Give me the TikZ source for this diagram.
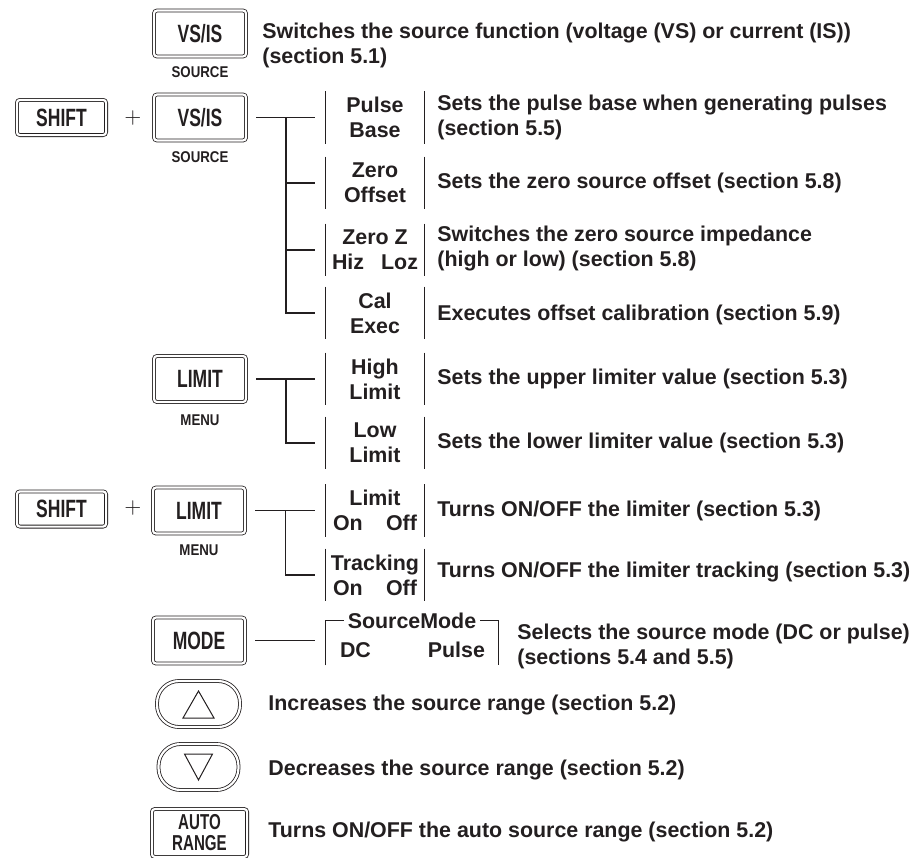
\documentclass[tikz,border=0pt]{standalone}
\usepackage{fontspec}
\setmainfont{Liberation Sans}
\newfontfamily\keyfont[FakeStretch=0.7]{Liberation Sans}
\newfontfamily\capfont[FakeStretch=0.85]{Liberation Sans}
\usetikzlibrary{positioning, calc}
\definecolor{ink}{HTML}{231F20}

\begin{document}
\begin{tikzpicture}[
    x=0.5pt, y=-0.5pt,
    color=ink,
    font=\bfseries\fontsize{10.7}{12.5}\selectfont,
    key/.style={draw, double, double distance=1.1pt, line width=0.4pt, rounded corners=1.5pt,
        minimum width=46pt, minimum height=23pt, inner sep=0pt,
        font=\keyfont\bfseries\fontsize{12.5}{10.5}\selectfont, align=center},
    roundkey/.style={key, rounded corners=11pt, minimum width=41.5pt},
    keycap/.style={inner sep=0pt, font=\capfont\bfseries\fontsize{7.8}{8}\selectfont},
    item/.style={minimum width=49pt, minimum height=26pt, inner sep=0pt, align=center},
    desc/.style={anchor=west, align=left, inner sep=0pt},
    link/.style={line width=0.7pt}
]
    \useasboundingbox (0,0) rectangle (921,857);

    % VS/IS alone
    \node[key] (vsisA) at (200,33.5) {VS/IS};
    \node[keycap] (capA) at (200,72) {SOURCE};
    \node[desc] (dswitch) at (262,45) {Switches the source function (voltage (VS) or current (IS))\\(section 5.1)};

    % SHIFT + VS/IS
    \node[key, minimum width=44.6pt, minimum height=17.6pt] (shiftA) at (61.5,117.5) {SHIFT};
    \node (plusA) at (133,118) {$+$};
    \node[key] (vsisB) at (200,117.5) {VS/IS};
    \node[keycap] (capB) at (200,157) {SOURCE};

    \node[item] (pulse) at (375,117.5) {Pulse\\Base};
    \node[item] (zoff) at (375,183) {Zero\\Offset};
    \node[item] (zeroz) at (375,250) {Zero Z\\\makebox[43pt]{Hiz\hfill Loz}};
    \node[item] (cal) at (375,313) {Cal\\Exec};

    \node[desc] (dpulse) at (437,117.5) {Sets the pulse base when generating pulses\\(section 5.5)};
    \node[desc] (dzoff) at (437,183) {Sets the zero source offset (section 5.8)};
    \node[desc] (dzeroz) at (437,249) {Switches the zero source impedance\\(high or low) (section 5.8)};
    \node[desc] (dcal) at (437,315) {Executes offset calibration (section 5.9)};

    \draw[link, shorten <=5pt, shorten >=5.5pt] (vsisB) -- (pulse);
    \coordinate (jA) at ($(vsisB.east)!0.5!(pulse.west)$);
    \foreach \n in {zoff, zeroz, cal}
        \draw[link, shorten >=5.5pt] (jA) |- (\n.west);

    % LIMIT
    \node[key] (limitA) at (200,379) {LIMIT};
    \node[keycap] (menuA) at (200,420) {MENU};

    \node[item] (high) at (375,379) {High\\Limit};
    \node[item] (low) at (375,443) {Low\\Limit};
    \node[desc] (dhigh) at (437,379) {Sets the upper limiter value (section 5.3)};
    \node[desc] (dlow) at (437,443) {Sets the lower limiter value (section 5.3)};

    \draw[link, shorten <=5pt, shorten >=5.5pt] (limitA) -- (high);
    \coordinate (jB) at ($(limitA.east)!0.5!(high.west)$);
    \draw[link, shorten >=5.5pt] (jB) |- (low.west);

    % SHIFT + LIMIT
    \node[key, minimum width=44.6pt, minimum height=17.6pt] (shiftB) at (61.5,509) {SHIFT};
    \node (plusB) at (133,508) {$+$};
    \node[key] (limitB) at (199,510.5) {LIMIT};
    \node[keycap] (menuB) at (199,550) {MENU};

    \node[item] (lim) at (375,510.5) {Limit\\\makebox[42pt]{On\hfill Off}};
    \node[item] (track) at (375,575) {Tracking\\\makebox[42pt]{On\hfill Off}};
    \node[desc] (dlim) at (437,511) {Turns ON/OFF the limiter (section 5.3)};
    \node[desc] (dtrack) at (437,572) {Turns ON/OFF the limiter tracking (section 5.3)};

    \draw[link, shorten <=5pt, shorten >=5.5pt] (limitB) -- (lim);
    \coordinate (jC) at ($(limitB.east)!0.5!(lim.west)$);
    \draw[link, shorten >=5.5pt] (jC) |- (track.west);

    \foreach \n in {pulse, zoff, zeroz, cal, high, low, lim, track}
        \draw[link] (\n.north west) -- (\n.south west) (\n.north east) -- (\n.south east);

    % MODE
    \node[key] (mode) at (199,640.5) {MODE};
    \node[minimum width=86pt, minimum height=22pt, inner sep=0pt] (smode) at (412,643) {};
    \draw[link] (smode.south west) -- (smode.north west) -- (smode.north east) -- (smode.south east);
    \node[fill=white, inner xsep=2pt, inner ysep=0pt] (smtitle) at (smode.north) {SourceMode};
    \node[inner sep=0pt] (smsub) at (412.5,650) {\makebox[72.5pt]{DC\hfill Pulse}};
    \node[desc] (dmode) at (517,646) {Selects the source mode (DC or pulse)\\(sections 5.4 and 5.5)};
    \draw[link, shorten <=5pt, shorten >=5.5pt] (mode.east) -- (mode.east -| smode.west);

    % range keys
    \node[roundkey] (up) at (198.5,704) {};
    \draw[line width=0.5pt] ($(up)+(0,-13)$) -- ($(up)+(15.5,14)$) -- ($(up)+(-15.5,14)$) -- cycle;
    \node[desc] (dup) at (268,705) {Increases the source range (section 5.2)};

    \node[roundkey, minimum width=40pt] (down) at (198.5,767) {};
    \draw[line width=0.5pt] ($(down)+(0,13)$) -- ($(down)+(14,-13)$) -- ($(down)+(-14,-13)$) -- cycle;
    \node[desc] (ddown) at (268,770) {Decreases the source range (section 5.2)};

    \node[key, minimum width=47.6pt, minimum height=24pt,
        font=\keyfont\bfseries\fontsize{10.8}{10.5}\selectfont] (auto) at (199.5,833) {AUTO\\RANGE};
    \node[desc] (dauto) at (268,832) {Turns ON/OFF the auto source range (section 5.2)};
\end{tikzpicture}
\end{document}
